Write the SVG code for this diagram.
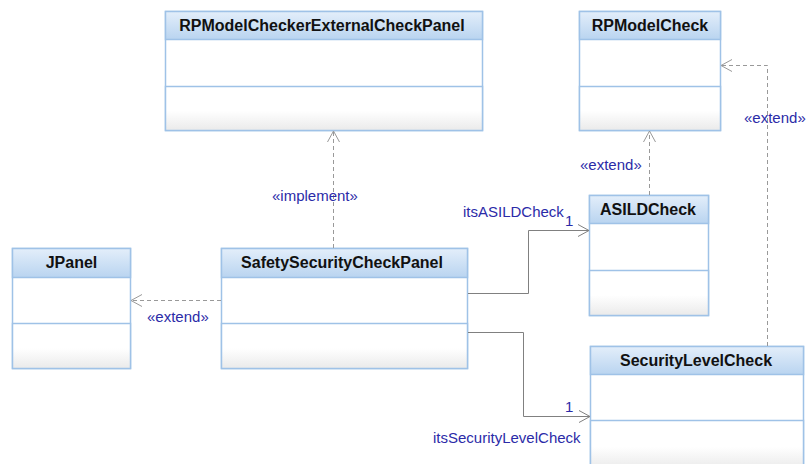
<svg xmlns="http://www.w3.org/2000/svg" width="809" height="464" viewBox="0 0 809 464">
<defs>
<linearGradient id="hdr" x1="0" y1="0" x2="0" y2="1">
<stop offset="0" stop-color="#e3eefa"/>
<stop offset="1" stop-color="#b9d4f0"/>
</linearGradient>
<linearGradient id="btm" x1="0" y1="0" x2="0" y2="1">
<stop offset="0" stop-color="#ffffff"/>
<stop offset="0.55" stop-color="#ffffff"/>
<stop offset="1" stop-color="#eaeaea"/>
</linearGradient>
<marker id="open" markerWidth="14" markerHeight="14" refX="12" refY="7" orient="auto" markerUnits="userSpaceOnUse">
<path d="M1,1 L12,7 L1,13" fill="none" stroke="#999" stroke-width="1"/>
</marker>
<marker id="assoc" markerWidth="14" markerHeight="14" refX="12" refY="7" orient="auto" markerUnits="userSpaceOnUse">
<path d="M1,1 L12,7 L1,13" fill="none" stroke="#808080" stroke-width="1"/>
</marker>
</defs>
<style>
.box{fill:#fff;stroke:#9fc2e7;stroke-width:1.5}
.hd{fill:url(#hdr);stroke:#9fc2e7;stroke-width:1.5}
.bt{fill:url(#btm);stroke:#9fc2e7;stroke-width:1.5}
.t{font-family:"Liberation Sans",Arial,sans-serif;font-weight:bold;font-size:16px;fill:#111;text-anchor:middle}
.l{font-family:"Liberation Sans",Arial,sans-serif;font-size:15px;fill:#2b2ba8}
.dash{fill:none;stroke:#999;stroke-width:1;stroke-dasharray:4,3}
.as{fill:none;stroke:#808080;stroke-width:1}
</style>
<g id="RPModelCheckerExternalCheckPanel">
<rect class="box" x="165.5" y="11.5" width="317" height="119"/>
<rect class="hd" x="165.5" y="11.5" width="317" height="28"/>
<rect class="bt" x="165.5" y="86.5" width="317" height="44"/>
<text class="t" x="322" y="31">RPModelCheckerExternalCheckPanel</text>
</g>
<g id="RPModelCheck">
<rect class="box" x="579.5" y="11.5" width="141" height="119"/>
<rect class="hd" x="579.5" y="11.5" width="141" height="28"/>
<rect class="bt" x="579.5" y="86.5" width="141" height="44"/>
<text class="t" x="650" y="31">RPModelCheck</text>
</g>
<g id="JPanel">
<rect class="box" x="12.5" y="248.5" width="118" height="120"/>
<rect class="hd" x="12.5" y="248.5" width="118" height="29"/>
<rect class="bt" x="12.5" y="323.5" width="118" height="45"/>
<text class="t" x="71.5" y="268">JPanel</text>
</g>
<g id="SafetySecurityCheckPanel">
<rect class="box" x="221.5" y="248.5" width="246" height="120"/>
<rect class="hd" x="221.5" y="248.5" width="246" height="29"/>
<rect class="bt" x="221.5" y="323.5" width="246" height="45"/>
<text class="t" x="342" y="268">SafetySecurityCheckPanel</text>
</g>
<g id="ASILDCheck">
<rect class="box" x="589.5" y="195.5" width="119" height="120"/>
<rect class="hd" x="589.5" y="195.5" width="119" height="28"/>
<rect class="bt" x="589.5" y="270.5" width="119" height="45"/>
<text class="t" x="648" y="215">ASILDCheck</text>
</g>
<g id="SecurityLevelCheck">
<rect class="box" x="590.5" y="346.5" width="213" height="122"/>
<rect class="hd" x="590.5" y="346.5" width="213" height="28"/>
<rect class="bt" x="590.5" y="420.5" width="213" height="48"/>
<text class="t" x="696" y="366">SecurityLevelCheck</text>
</g>
<g id="connectors">
<path class="dash" d="M333.5,248 L333.5,131" marker-end="url(#open)"/>
<path class="dash" d="M221,300.5 L131,300.5" marker-end="url(#open)"/>
<path class="dash" d="M649.5,195 L649.5,131" marker-end="url(#open)"/>
<path class="dash" d="M767.5,346 L767.5,65.5 L721,65.5" marker-end="url(#open)"/>
<path class="as" d="M468,293.5 L528.5,293.5 L528.5,230.5 L589,230.5" marker-end="url(#assoc)"/>
<path class="as" d="M468,332.5 L523.5,332.5 L523.5,416.5 L590,416.5" marker-end="url(#assoc)"/>
<text class="l" x="272" y="201">«implement»</text>
<text class="l" x="147" y="322">«extend»</text>
<text class="l" x="580" y="170">«extend»</text>
<text class="l" x="744" y="123">«extend»</text>
<text class="l" x="463" y="217">itsASILDCheck</text>
<text class="l" x="565" y="226">1</text>
<text class="l" x="565" y="412">1</text>
<text class="l" x="433" y="443">itsSecurityLevelCheck</text>
</g>
</svg>
